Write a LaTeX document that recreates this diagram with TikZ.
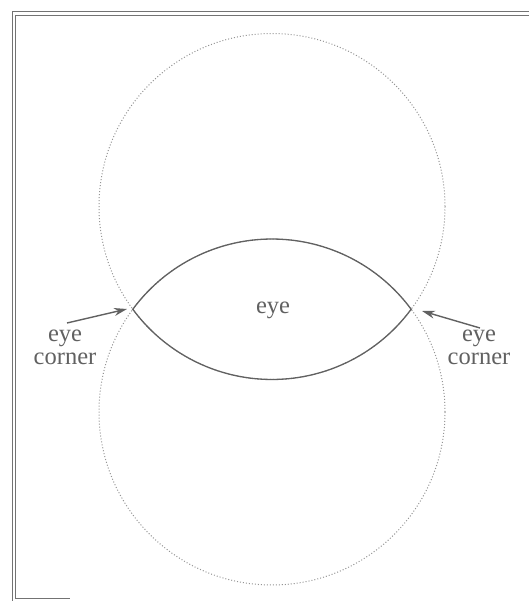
\documentclass[tikz,border=0pt]{standalone}
\usepackage{fontspec}
\setmainfont{Liberation Serif}
\usetikzlibrary{arrows.meta}
\definecolor{ink}{gray}{0.38}
\definecolor{frame}{gray}{0.45}
\definecolor{circ}{gray}{0.58}
\tikzset{
  lbl/.style={text=ink, inner sep=0pt, font=\fontsize{24.5}{22.5}\selectfont, align=center},
  framel/.style={draw=frame, line width=0.9pt},
  circl/.style={draw=circ, dotted, line width=1pt},
  lens/.style={draw=ink, line width=1.3pt},
  ptr/.style={draw=ink, line width=1.4pt, -{Stealth[length=13pt,width=8pt]}}
}
\begin{document}
\begin{tikzpicture}[x=1pt,y=-1pt]
\useasboundingbox (0,0) rectangle (529,602);
% frame
\draw[framel] (529,11) -- (12,11) -- (12,601);
\draw[framel] (529,15) -- (15.5,15) -- (15.5,598) -- (70,598);
% circles
\coordinate (cu) at (272,206.5);
\coordinate (cl) at (272,412);
\draw[circl] (cu) circle[radius=173];
\draw[circl] (cl) circle[radius=173];
% lens corners
\coordinate (cL) at (132.8,309.25);
\coordinate (cR) at (411.2,309.25);
% lens: upper arc of lower circle, lower arc of upper circle
\draw[lens] (cL) arc[start angle={216.44}, end angle={323.56}, radius=173]
  arc[start angle={36.44}, end angle={143.56}, radius=173] -- cycle;
% labels
\node[lbl, anchor=base] (eye) at (273,313) {eye};
\node[lbl] (lcorner) at (65,347.5) {eye\\corner};
\node[lbl] (rcorner) at (479,347.5) {eye\\corner};
\coordinate (ltail) at (67,323);
\coordinate (ltip) at (127,309);
\coordinate (rtail) at (480,328);
\coordinate (rtip) at (422,311);
\draw[ptr] (ltail) -- (ltip);
\draw[ptr] (rtail) -- (rtip);
\end{tikzpicture}
\end{document}
